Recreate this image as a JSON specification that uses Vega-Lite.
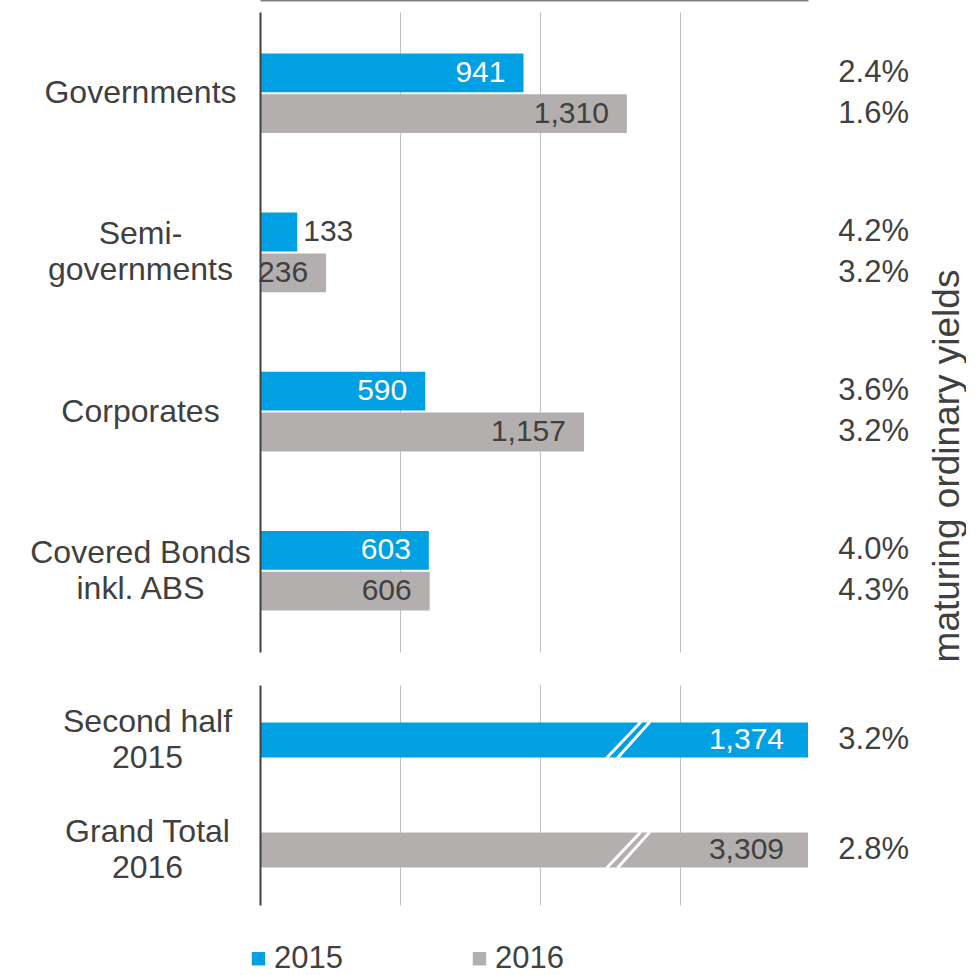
{
  "$schema": "https://vega.github.io/schema/vega-lite/v6.json",
  "background": "white",
  "padding": {"top": 0, "left": 29, "right": 0, "bottom": 0},
  "config": {
    "font": "Liberation Sans",
    "view": {"stroke": null},
    "axis": {"labelFont": "Liberation Sans", "titleFont": "Liberation Sans"},
    "legend": {"labelFont": "Liberation Sans"}
  },
  "datasets": {
    "top": [
      {"category": "Governments", "year": "2015", "value": 941, "yield": 0.024},
      {"category": "Governments", "year": "2016", "value": 1310, "yield": 0.016},
      {"category": "Semi-governments", "year": "2015", "value": 133, "yield": 0.042},
      {"category": "Semi-governments", "year": "2016", "value": 236, "yield": 0.032},
      {"category": "Corporates", "year": "2015", "value": 590, "yield": 0.036},
      {"category": "Corporates", "year": "2016", "value": 1157, "yield": 0.032},
      {"category": "Covered Bonds inkl. ABS", "year": "2015", "value": 603, "yield": 0.040},
      {"category": "Covered Bonds inkl. ABS", "year": "2016", "value": 606, "yield": 0.043}
    ],
    "bottom": [
      {"category": "Second half 2015", "year": "2015", "value": 1374, "yield": 0.032},
      {"category": "Grand Total 2016", "year": "2016", "value": 3309, "yield": 0.028}
    ]
  },
  "title": {
    "text": "maturing ordinary yields",
    "orient": "right",
    "angle": -90,
    "anchor": "middle",
    "fontSize": 37,
    "fontWeight": "normal",
    "color": "#404040",
    "font": "Liberation Sans",
    "offset": -16,
    "dx": 21
  },
  "columns": 2,
  "align": "each",
  "spacing": {"row": 33, "column": 0},
  "resolve": {"scale": {"color": "shared"}, "legend": {"color": "shared"}},
  "concat": [
    {
      "width": 548,
      "height": 640,
      "data": {"name": "top"},
      "encoding": {
        "y": {
          "field": "category", "type": "nominal",
          "sort": ["Governments", "Semi-governments", "Corporates", "Covered Bonds inkl. ABS"],
          "scale": {"paddingInner": 0.5, "paddingOuter": 0.26},
          "axis": {
            "title": null,
            "labelExpr": "datum.label == 'Semi-governments' ? ['Semi-', 'governments'] : datum.label == 'Covered Bonds inkl. ABS' ? ['Covered Bonds', 'inkl. ABS'] : datum.label",
            "labelOffset": {"condition": {"test": "datum.value == 'Semi-governments' || datum.value == 'Covered Bonds inkl. ABS'", "value": -18}, "value": 0},
            "labelAlign": "center", "labelPadding": 120, "ticks": false, "tickSize": 0,
            "labelFontSize": 32, "labelColor": "#404040", "labelLineHeight": 36, "labelLimit": 0,
            "domainColor": "#404040", "domainWidth": 2, "zindex": 1
          }
        },
        "yOffset": {"field": "year", "type": "nominal", "sort": ["2015", "2016"], "scale": {"paddingInner": 0.05}},
        "x": {
          "field": "value", "type": "quantitative",
          "scale": {"domain": [0, 1957], "nice": false},
          "axis": {"title": null, "orient": "top", "offset": 12, "values": [500, 1000, 1500], "labels": false, "ticks": false, "domain": true, "domainColor": "#7F7F7F", "domainWidth": 2, "grid": true, "gridColor": "#C0C0C0", "gridWidth": 1}
        }
      },
      "layer": [
        {
          "mark": {"type": "bar"},
          "encoding": {
            "color": {
              "field": "year", "type": "nominal",
              "scale": {"domain": ["2015", "2016"], "range": ["#00A0E3", "#B4AFAF"]},
              "legend": {
                "orient": "none", "legendX": -17, "legendY": 931,
                "direction": "horizontal", "title": null,
                "symbolType": "square", "symbolSize": 180, "symbolStrokeWidth": 0,
                "labelFontSize": 31, "labelColor": "#404040", "labelOffset": 0, "columnPadding": 121
              }
            }
          }
        },
        {
          "transform": [{"filter": "datum.value >= 200"}],
          "mark": {"type": "text", "align": "right", "dx": -18, "fontSize": 30},
          "encoding": {
            "text": {"field": "value", "type": "quantitative", "format": ","},
            "color": {"condition": {"test": "datum.year == '2015'", "value": "white"}, "value": "#404040"}
          }
        },
        {
          "transform": [{"filter": "datum.value < 200"}],
          "mark": {"type": "text", "align": "left", "dx": 6, "fontSize": 30, "color": "#404040"},
          "encoding": {
            "text": {"field": "value", "type": "quantitative", "format": ","}
          }
        }
      ]
    },
    {
      "width": 101,
      "height": 640,
      "data": {"name": "top"},
      "mark": {"type": "text", "align": "right", "fontSize": 31, "color": "#404040"},
      "encoding": {
        "y": {
          "field": "category", "type": "nominal",
          "sort": ["Governments", "Semi-governments", "Corporates", "Covered Bonds inkl. ABS"],
          "scale": {"paddingInner": 0.5, "paddingOuter": 0.26},
          "axis": null
        },
        "yOffset": {"field": "year", "type": "nominal", "sort": ["2015", "2016"], "scale": {"paddingInner": 0.05}},
        "x": {"value": "width"},
        "text": {"field": "yield", "type": "quantitative", "format": ".1%"}
      }
    },
    {
      "width": 548,
      "height": 220,
      "data": {"name": "bottom"},
      "encoding": {
        "y": {
          "field": "category", "type": "nominal",
          "sort": ["Second half 2015", "Grand Total 2016"],
          "scale": {"paddingInner": 0.68, "paddingOuter": 0.34},
          "axis": {
            "title": null,
            "labelExpr": "[slice(datum.label, 0, -5), slice(datum.label, -4)]",
            "labelOffset": -18,
            "labelAlign": "center", "labelPadding": 113, "ticks": false, "tickSize": 0,
            "labelFontSize": 32, "labelColor": "#404040", "labelLineHeight": 36, "labelLimit": 0,
            "domainColor": "#404040", "domainWidth": 2, "zindex": 1
          }
        }
      },
      "layer": [
        {
          "mark": {"type": "bar"},
          "encoding": {
            "x": {
              "datum": 0, "type": "quantitative",
              "scale": {"domain": [0, 1957], "nice": false},
              "axis": {"title": null, "values": [500, 1000, 1500], "labels": false, "ticks": false, "domain": false, "grid": true, "gridColor": "#C0C0C0", "gridWidth": 1}
            },
            "x2": {"value": "width"},
            "color": {"field": "year", "type": "nominal"}
          }
        },
        {
          "mark": {"type": "point", "shape": "M-1.2,1L0.7,-1M-0.6,1L1.2,-1", "size": 1296, "filled": false, "stroke": "white", "strokeWidth": 3, "opacity": 1},
          "encoding": {
            "x": {"datum": 1315, "type": "quantitative"}
          }
        },
        {
          "mark": {"type": "text", "align": "right", "dx": -24, "fontSize": 30},
          "encoding": {
            "x": {"value": "width"},
            "text": {"field": "value", "type": "quantitative", "format": ","},
            "color": {"condition": {"test": "datum.year == '2015'", "value": "white"}, "value": "#404040"}
          }
        }
      ]
    },
    {
      "width": 101,
      "height": 220,
      "data": {"name": "bottom"},
      "mark": {"type": "text", "align": "right", "fontSize": 31, "color": "#404040"},
      "encoding": {
        "y": {
          "field": "category", "type": "nominal",
          "sort": ["Second half 2015", "Grand Total 2016"],
          "scale": {"paddingInner": 0.68, "paddingOuter": 0.34},
          "axis": null
        },
        "x": {"value": "width"},
        "text": {"field": "yield", "type": "quantitative", "format": ".1%"}
      }
    }
  ]
}
